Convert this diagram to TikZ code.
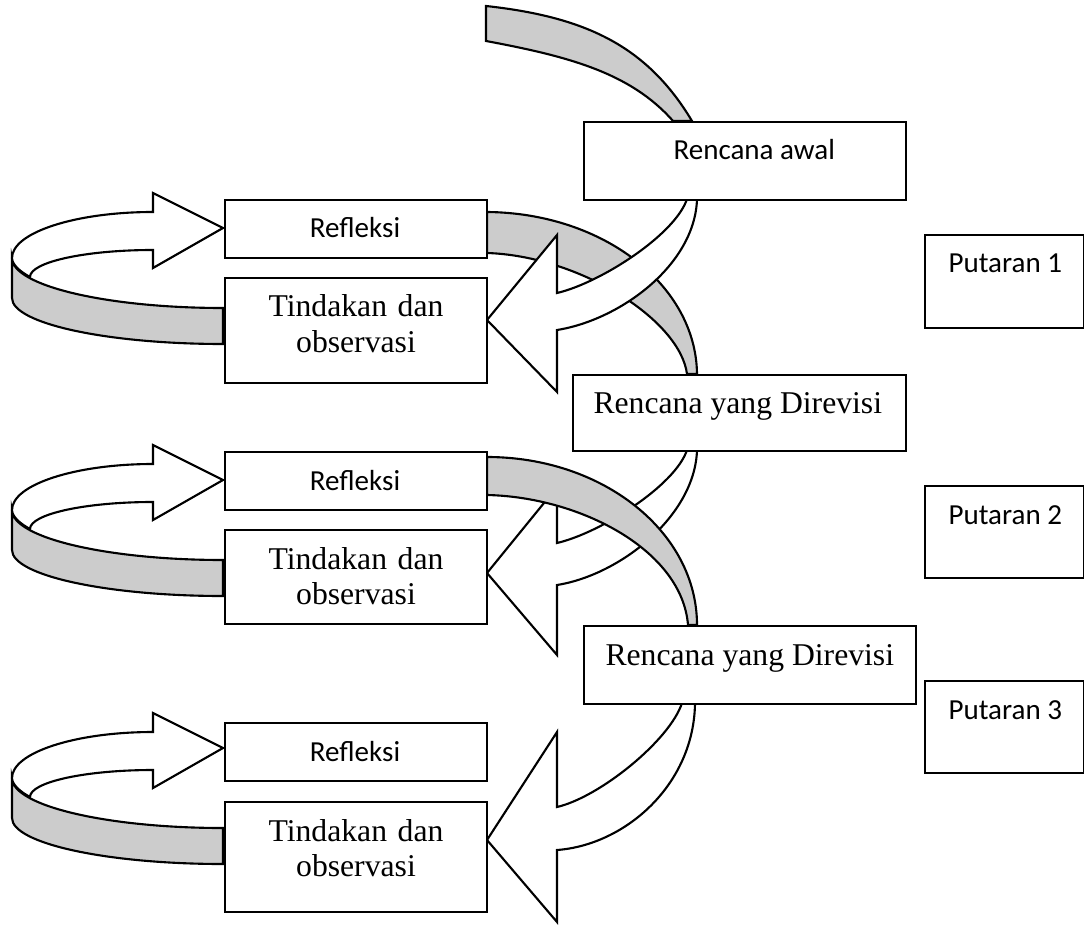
\documentclass[tikz,border=0pt]{standalone}
\usepackage{fontspec}
\setmainfont{Liberation Serif}
\newfontfamily\calibri{Carlito}
\def\pxu{0.3788pt}
\definecolor{ribbon}{HTML}{CCCCCC}
\tikzset{
  box/.style={draw, line width=0.8pt, fill=white, rectangle, inner sep=0pt, anchor=north west},
  shp/.style={draw, line width=0.8pt, line join=miter},
  greyshape/.style={shp, fill=ribbon},
  whiteshape/.style={shp, fill=white},
  cal/.style={font=\calibri\fontsize{11}{13}\selectfont, inner sep=0pt},
  tnr/.style={font=\fontsize{12}{13.3}\selectfont, inner sep=0pt},
}
\newcommand\mkbox[5]{\node[box, minimum width={(#4-#2)*\pxu}, minimum height={(#5-#3)*\pxu}] (#1) at (#2,#3) {};}
\newcommand\leftloop{%
  \draw[greyshape] (12,258) -- (12,298) .. controls (12,323.4) and (106.5,344) .. (223,344) -- (223,308) .. controls (106.5,308) and (12,285.6) .. (12,258) -- cycle;
  \draw[whiteshape] (12,258) .. controls (12,232.6) and (75.2,212) .. (153,212) -- (153,193) -- (223,228) -- (153,268) -- (153,250) .. controls (85.1,250) and (30,262.1) .. (30,277) .. controls (20,271.6) and (12,264.5) .. (12,258) -- cycle;
}
\begin{document}
\begin{tikzpicture}[x=\pxu, y=-\pxu]
\useasboundingbox (0,0) rectangle (1084,924);
\clip (0,0) rectangle (1084,924);
% ribbons and arrows
\draw[greyshape] (486,6) .. controls (586,17) and (647,46) .. (692,121) -- (673,121) .. controls (630,72) and (566,56) .. (486,41) -- cycle;
\draw[greyshape] (487,212) .. controls (603,213) and (696,285) .. (697,374) -- (687,374) .. controls (680,320) and (580,256) .. (487,253) -- cycle;
\draw[whiteshape] (687,199) .. controls (675,235) and (600,283) .. (557,293) -- (557,235) -- (487,320) -- (557,392) -- (557,330) .. controls (620,320) and (695,265) .. (697,199) -- cycle;
\draw[whiteshape] (687,450) .. controls (675,486) and (600,533) .. (557,543) -- (557,487) -- (487,573) -- (557,655) -- (557,585) .. controls (620,575) and (695,516) .. (697,450) -- cycle;
\draw[greyshape] (487,457) .. controls (603,457) and (697,532) .. (697,625) -- (688,625) .. controls (682,550) and (580,497) .. (487,495) -- cycle;
\draw[whiteshape] (682,703) .. controls (670,740) and (600,797) .. (557,807) -- (557,732) -- (487,840) -- (557,922) -- (557,850) .. controls (625,845) and (694,785) .. (695,703) -- cycle;
% left loops
\begin{scope}\leftloop\end{scope}
\begin{scope}[shift={(0,252)}]\leftloop\end{scope}
\begin{scope}[shift={(0,520)}]\leftloop\end{scope}
% boxes
\mkbox{ra}{583}{121}{905}{199}
\mkbox{rd1}{572}{374}{905}{450}
\mkbox{rd2}{583}{625}{915}{703}
\mkbox{ref1}{224}{199}{486}{257}
\mkbox{tin1}{224}{277}{486}{382}
\mkbox{ref2}{224}{451}{486}{509}
\mkbox{tin2}{224}{529}{486}{623}
\mkbox{ref3}{224}{722}{486}{780}
\mkbox{tin3}{224}{801}{486}{911}
\mkbox{p1}{924}{234}{1083}{327}
\mkbox{p2}{924}{485}{1083}{577}
\mkbox{p3}{924}{680}{1083}{772}
% texts
\node[cal, anchor=base west] (rat) at (673,160) {Rencana awal};
\node[tnr, anchor=base west] (rd1t) at (593,413) {Rencana yang Direvisi};
\node[tnr, anchor=base west] (rd2t) at (605,665) {Rencana yang Direvisi};
\node[cal, anchor=base] (ref1t) at (355,238) {Refleksi};
\node[cal, anchor=base] (ref2t) at (355,490) {Refleksi};
\node[cal, anchor=base] (ref3t) at (355,761) {Refleksi};
\node[tnr, text width=98pt, align=center, anchor=base] (tin1t) at (356,317) {Tindakan dan\\observasi};
\node[tnr, text width=98pt, align=center, anchor=base] (tin2t) at (356,569) {Tindakan dan\\observasi};
\node[tnr, text width=98pt, align=center, anchor=base] (tin3t) at (356,841) {Tindakan dan\\observasi};
\node[cal, anchor=base west] (p1t) at (948,273) {Putaran 1};
\node[cal, anchor=base west] (p2t) at (948,524) {Putaran 2};
\node[cal, anchor=base west] (p3t) at (948,719) {Putaran 3};
\end{tikzpicture}
\end{document}
